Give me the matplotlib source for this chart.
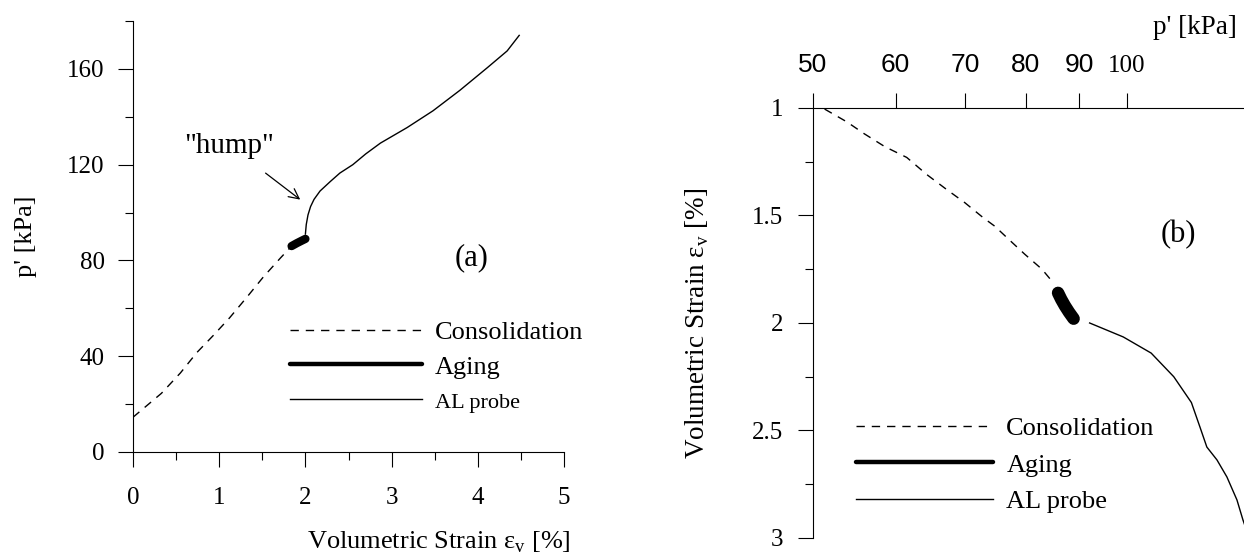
import matplotlib
matplotlib.use('Agg')
import matplotlib.pyplot as plt
from matplotlib.ticker import MultipleLocator, NullLocator

plt.rcParams['font.family'] = ['Liberation Serif', 'DejaVu Serif']
plt.rcParams['mathtext.fontset'] = 'custom'
plt.rcParams['mathtext.rm'] = 'Liberation Serif'

# (a) p' vs volumetric strain
cons_strain_a = [0.0, 0.33, 0.55, 0.74, 0.93, 1.12, 1.32, 1.51, 1.71, 1.84]
cons_p_a = [14.5, 24.5, 33, 41.5, 48.6, 56, 64.6, 73, 81, 86]
aging_strain_a = [1.84, 1.90, 1.96, 2.00]
aging_p_a = [86, 87.2, 88.3, 89]
al_strain_a = [2.00, 2.01, 2.03, 2.06, 2.10, 2.17, 2.29, 2.40, 2.55, 2.70, 2.87,
               3.18, 3.48, 3.79, 4.11, 4.34, 4.48]
al_p_a = [91, 95, 99, 102.5, 105.5, 109, 113, 116.5, 120, 124.5, 129,
          135.5, 142.5, 151, 160.5, 167.5, 174]

# (b) volumetric strain vs p' (log)
cons_p_b = [51.3, 53.9, 56.0, 58.6, 61.5, 64.3, 67.2, 69.9, 72.8, 74.7, 77.0, 79.8, 82.9, 84.9]
cons_strain_b = [1.005, 1.065, 1.12, 1.18, 1.23, 1.31, 1.38, 1.44, 1.51, 1.55, 1.61, 1.68, 1.75, 1.81]
aging_p_b = [85.9, 86.5, 87.2, 88.0, 88.9]
aging_strain_b = [1.86, 1.89, 1.92, 1.95, 1.98]
al_p_b = [92.1, 99.2, 105.5, 110.9, 115.3, 117.5, 119.3, 122.0, 124.7, 127.5, 129.2, 131.0]
al_strain_b = [2.0, 2.065, 2.14, 2.25, 2.37, 2.484, 2.577, 2.637, 2.716, 2.823, 2.916, 3.0]

top_ticks = [50, 60, 70, 80, 90, 100]
labels = ['Consolidation', 'Aging', 'AL probe']

fig = plt.figure(figsize=(12.44, 5.56), dpi=100)
ax1 = fig.add_axes([0.1069, 0.1871, 0.3465, 0.7751])
ax2 = fig.add_axes([0.6535, 0.0324, 0.3465, 0.7734])

dash = (6, 5)

# ---- panel (a)
ax1.plot(cons_strain_a, cons_p_a, color='black', lw=1.0, dashes=dash, label=labels[0])
ax1.plot(aging_strain_a, aging_p_a, color='black', lw=6, solid_capstyle='round', label=labels[1])
ax1.plot(al_strain_a, al_p_a, color='black', lw=1.0, label=labels[2])
ax1.set_xlim(0, 5)
ax1.set_ylim(0, 180)
ax1.set_xticks([0, 1, 2, 3, 4, 5])
ax1.set_yticks([0, 40, 80, 120, 160])
ax1.xaxis.set_minor_locator(MultipleLocator(0.5))
ax1.yaxis.set_minor_locator(MultipleLocator(20))
for s in ['top', 'right']:
    ax1.spines[s].set_visible(False)
ax1.tick_params(which='major', direction='out', length=10.5, width=0.8, labelsize=18)
ax1.tick_params(axis='x', which='major', pad=15)
ax1.tick_params(axis='y', which='major', pad=10)
ax1.tick_params(which='minor', direction='out', length=5.5, width=0.8)
ax1.set_ylabel("p' [kPa]", fontsize=19)
ax1.yaxis.set_label_coords(-0.223, 0.5)
ax1.set_xlabel('Volumetric Strain ε$_\\mathregular{v}$ [%]', fontsize=19)
ax1.xaxis.set_label_coords(0.71, -0.18)
ax1.annotate('"hump"', xy=(1.94, 105.4), xytext=(1.12, 128), fontsize=21,
             ha='center', va='center',
             arrowprops=dict(arrowstyle='->', color='black', lw=0.9, mutation_scale=18,
                             shrinkA=14, shrinkB=0))
ax1.text(3.93, 81, '(a)', fontsize=22, ha='center', va='center')
leg1 = ax1.legend(loc='center left', bbox_to_anchor=(0.2331, 0.3400), bbox_transform=fig.transFigure,
                  frameon=False, fontsize=19, handlelength=5, handletextpad=0.5,
                  labelspacing=0.42, borderpad=0, borderaxespad=0)
leg1.get_lines()[1].set_linewidth(3.2)
leg1.get_texts()[2].set_fontsize(16)

# ---- panel (b)
ax2.plot(cons_p_b, cons_strain_b, color='black', lw=1.0, dashes=dash, label=labels[0])
ax2.plot(aging_p_b, aging_strain_b, color='black', lw=9, solid_capstyle='round', label=labels[1])
ax2.plot(al_p_b, al_strain_b, color='black', lw=1.0, label=labels[2])
ax2.set_xscale('log')
ax2.set_xlim(50, 129.5)
ax2.set_ylim(3, 1)
ax2.set_xticks(top_ticks)
ax2.set_xticklabels([str(t) for t in top_ticks])
ax2.xaxis.set_minor_locator(NullLocator())
ax2.set_yticks([1, 1.5, 2, 2.5, 3])
ax2.set_yticklabels(['1', '1.5', '2', '2.5', '3'])
ax2.yaxis.set_minor_locator(MultipleLocator(0.25))
ax2.xaxis.tick_top()
for s in ['bottom', 'right']:
    ax2.spines[s].set_visible(False)
ax2.tick_params(which='major', direction='out', length=10.5, width=0.8, labelsize=18)
ax2.tick_params(axis='x', which='major', pad=12, labelsize=19)
ax2.tick_params(axis='y', which='major', pad=11)
ax2.tick_params(which='minor', direction='out', length=5.5, width=0.8)
for lab in ax2.get_xticklabels():
    if lab.get_text() == '100':
        lab.set_fontfamily('Liberation Serif')
        lab.set_fontsize(18)
    else:
        lab.set_fontfamily('Liberation Sans')
ax2.set_ylabel('Volumetric Strain ε$_\\mathregular{v}$ [%]', fontsize=19.5)
ax2.yaxis.set_label_coords(-0.237, 0.5)
fig.text(1237 / 1244, 1 - 27 / 556, "p' [kPa]", fontsize=19.5, ha='right', va='center')
ax2.text(112, 1.59, '(b)', fontsize=22, ha='center', va='center')
leg2 = ax2.legend(loc='center left', bbox_to_anchor=(0.688, 0.164), bbox_transform=fig.transFigure,
                  frameon=False, fontsize=19, handlelength=5.2, handletextpad=0.5,
                  labelspacing=0.5, borderpad=0, borderaxespad=0)
leg2.get_lines()[1].set_linewidth(3.2)
leg2.get_texts()[2].set_fontsize(19)

fig.savefig('out.png', dpi=100)
